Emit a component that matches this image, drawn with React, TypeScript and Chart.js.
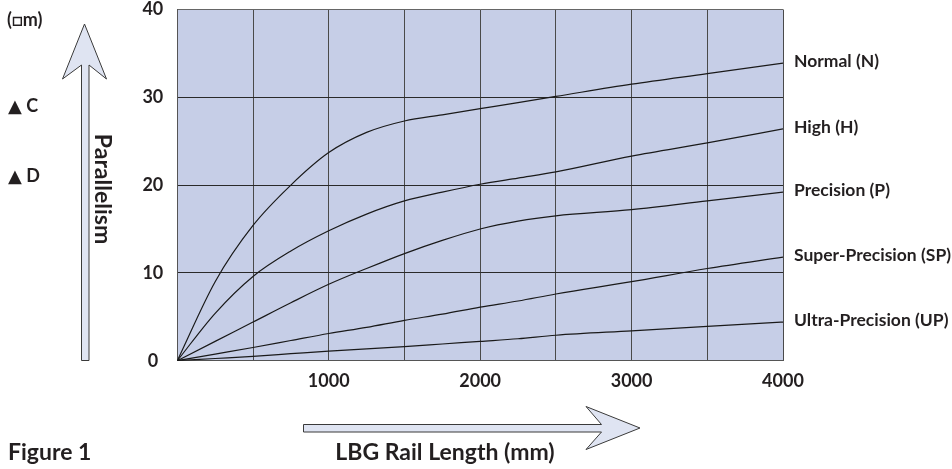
import React, { useEffect, useRef } from "react";
import { Chart, registerables } from "chart.js";

Chart.register(...registerables);

// ---- data ----
const railLength = [0, 250, 500, 750, 1000, 1250, 1500, 1750, 2000, 2250, 2500, 3000, 3500, 4000];
const normalN = [0, 9.0, 15.4, 20.0, 23.7, 26.0, 27.3, 28.0, 28.7, 29.4, 30.1, 31.5, 32.7, 33.9];
const highH = [0, 5.4, 9.6, 12.5, 14.8, 16.7, 18.2, 19.2, 20.1, 20.8, 21.5, 23.3, 24.8, 26.4];
const precisionP = [0, 2.2, 4.4, 6.6, 8.7, 10.5, 12.2, 13.7, 15.0, 15.9, 16.5, 17.2, 18.2, 19.2];
const superPrecisionSP = [0, 0.75, 1.5, 2.3, 3.1, 3.8, 4.6, 5.3, 6.1, 6.8, 7.6, 9.0, 10.5, 11.8];
const ultraPrecisionUP = [0, 0.25, 0.5, 0.8, 1.1, 1.35, 1.6, 1.9, 2.2, 2.5, 2.9, 3.4, 3.9, 4.4];

const seriesLabels = ["Normal (N)", "High (H)", "Precision (P)", "Super-Precision (SP)", "Ultra-Precision (UP)"];
const seriesValues = [normalN, highH, precisionP, superPrecisionSP, ultraPrecisionUP];

const xLabelTicks = [1000, 2000, 3000, 4000];
const yTickStep = 10;
const yMax = 40;
const xMax = 4000;
const xGridStep = 500;

const unitLabel = "(\u25A1m)";
const sideMarks = ["\u25B2 C", "\u25B2 D"];
const yTitle = "Parallelism";
const xTitle = "LBG Rail Length (mm)";
const figureLabel = "Figure 1";

const FONT = "Lato, 'DejaVu Sans', sans-serif";
const TEXT = "#231f20";

const backgroundPlugin = {
  id: "plotBg",
  beforeDraw(chart: any) {
    const { ctx, chartArea } = chart;
    ctx.save();
    ctx.fillStyle = "#c6cee7";
    ctx.fillRect(chartArea.left, chartArea.top, chartArea.right - chartArea.left, chartArea.bottom - chartArea.top);
    ctx.restore();
  },
};

function drawPoly(ctx: CanvasRenderingContext2D, pts: number[][]) {
  ctx.beginPath();
  ctx.moveTo(pts[0][0], pts[0][1]);
  for (let i = 1; i < pts.length; i++) ctx.lineTo(pts[i][0], pts[i][1]);
  ctx.closePath();
  ctx.fillStyle = "#dfe4f2";
  ctx.fill();
  ctx.lineWidth = 1;
  ctx.strokeStyle = "#3a3a3a";
  ctx.stroke();
}

const decorPlugin = {
  id: "decor",
  afterDraw(chart: any) {
    const { ctx, chartArea } = chart;
    ctx.save();
    // series labels at line ends
    ctx.font = `bold 17.5px ${FONT}`;
    ctx.fillStyle = TEXT;
    ctx.textAlign = "left";
    ctx.textBaseline = "middle";
    chart.data.datasets.forEach((ds: any, i: number) => {
      const meta = chart.getDatasetMeta(i);
      const last = meta.data[meta.data.length - 1];
      ctx.fillText(ds.label, chartArea.right + 11, last.y - 1.5);
    });

    // left texts
    ctx.textBaseline = "alphabetic";
    ctx.font = `bold 18px ${FONT}`;
    ctx.fillText(unitLabel, 7, 26);
    ctx.fillText(sideMarks[0], 8, 112);
    ctx.fillText(sideMarks[1], 8, 182);

    // up arrow
    drawPoly(ctx, [
      [84.5, 24],
      [106.5, 79],
      [89, 65],
      [89, 360.5],
      [81.5, 360.5],
      [81.5, 65],
      [62.5, 79],
    ]);
    // right arrow
    drawPoly(ctx, [
      [640, 428],
      [586, 449.5],
      [601.5, 432],
      [303.5, 432],
      [303.5, 424.5],
      [601.5, 424.5],
      [586, 406.5],
    ]);

    // axis titles
    ctx.fillStyle = TEXT;
    ctx.font = `bold 23px ${FONT}`;
    ctx.save();
    ctx.translate(103.4, 189);
    ctx.rotate(Math.PI / 2);
    ctx.textAlign = "center";
    ctx.textBaseline = "alphabetic";
    ctx.fillText(yTitle, 0, 8.4);
    ctx.restore();

    ctx.textAlign = "center";
    ctx.textBaseline = "alphabetic";
    ctx.fillText(xTitle, 445, 460);

    ctx.textAlign = "left";
    ctx.fillText(figureLabel, 8, 460);
    ctx.restore();
  },
};

export default function App() {
  const canvasRef = useRef<HTMLCanvasElement | null>(null);

  useEffect(() => {
    if (!canvasRef.current) return;
    const datasets = seriesLabels.map((label, i) => ({
      label,
      data: railLength.map((x, j) => ({ x, y: seriesValues[i][j] })),
      borderColor: "#1a1a1a",
      borderWidth: 1.2,
      pointRadius: 0,
      fill: false,
      cubicInterpolationMode: "monotone" as const,
    }));

    const chart = new Chart(canvasRef.current, {
      type: "line",
      data: { datasets },
      plugins: [backgroundPlugin, decorPlugin],
      options: {
        animation: false,
        responsive: false,
        devicePixelRatio: 1,
        layout: { padding: { left: 0, right: 169, top: 9.5, bottom: 0 } },
        plugins: { legend: { display: false }, tooltip: { enabled: false } },
        scales: {
          x: {
            type: "linear",
            min: 0,
            max: xMax,
            afterFit(scale: any) {
              scale.height = 108.3;
              scale.paddingLeft = 0;
              scale.paddingRight = 0;
            },
            ticks: {
              stepSize: xGridStep,
              autoSkip: false,
              maxRotation: 0,
              padding: 10,
              color: TEXT,
              font: { family: FONT, size: 18, weight: "bold" },
              callback: (v: any) => (xLabelTicks.includes(Number(v)) ? String(v) : ""),
            },
            grid: { color: "#4a4a4a", lineWidth: 1, drawTicks: false },
            border: { display: true, color: "#555", width: 1 },
          },
          y: {
            type: "linear",
            min: 0,
            max: yMax,
            afterFit(scale: any) {
              scale.width = 177.3;
              scale.paddingTop = 0;
              scale.paddingBottom = 0;
            },
            ticks: {
              stepSize: yTickStep,
              padding: 14,
              crossAlign: "center",
              color: TEXT,
              font: { family: FONT, size: 18, weight: "bold" },
            },
            grid: {
              color: (c: any) => (c.tick && c.tick.value === yMax ? "#666" : "#2a2a2a"),
              lineWidth: 1,
              drawTicks: false,
            },
            border: { display: true, color: "#555", width: 1 },
          },
        },
      },
    });
    return () => chart.destroy();
  }, []);

  return (
    <div style={{ position: "fixed", left: 0, top: 0, width: 952, height: 469, background: "#fff" }}>
      <canvas ref={canvasRef} width={952} height={469} style={{ width: 952, height: 469, display: "block" }} />
    </div>
  );
}
